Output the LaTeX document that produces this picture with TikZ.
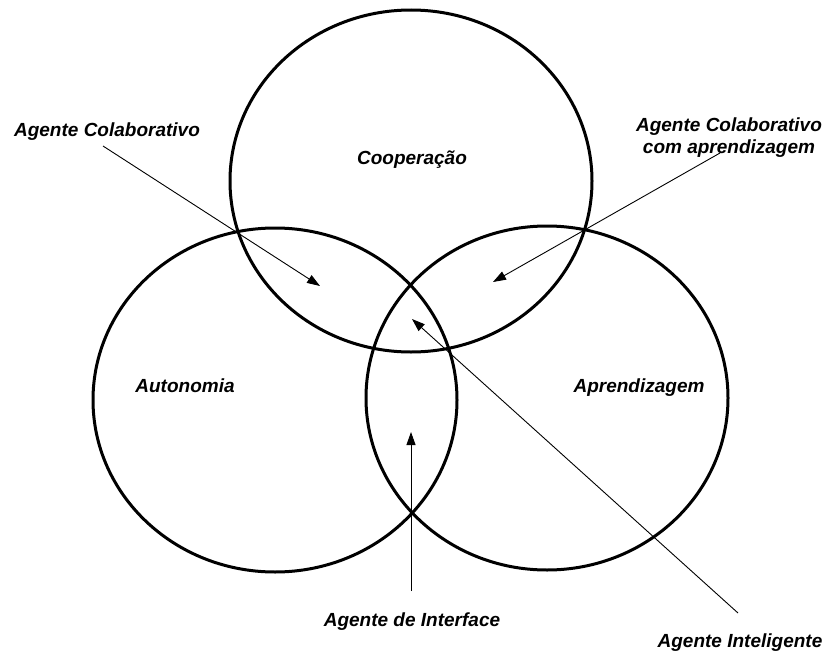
\documentclass[tikz,border=0pt]{standalone}
\usepackage{fontspec}
\setmainfont{Liberation Sans}
\usetikzlibrary{arrows.meta}
\begin{document}
\begin{tikzpicture}[x=1pt,y=-1pt,
  setring/.style={line width=3pt},
  lbl/.style={font=\fontsize{19}{21.5}\selectfont\bfseries\itshape, inner sep=0pt, anchor=base},
  pointer/.style={line width=0.9pt, -{Triangle[length=13pt,width=9pt]}}]
\useasboundingbox (0,0) rectangle (825,653);
% sets
\draw[setring] (411,181) ellipse [x radius=181, y radius=171];
\draw[setring] (275,400) ellipse [x radius=182, y radius=172];
\draw[setring] (547,398) ellipse [x radius=181, y radius=172];
% set labels
\node[lbl] (coop) at (412,164) {Cooperação};
\node[lbl] (auto) at (185,392) {Autonomia};
\node[lbl] (apr) at (639,392) {Aprendizagem};
% agent labels
\node[lbl] (colab) at (107,136) {Agente Colaborativo};
\node[lbl, align=center] (colabapr) at (729,153) {Agente Colaborativo\\com aprendizagem};
\node[lbl] (interf) at (412,626) {Agente de Interface};
\node[lbl] (intel) at (740,647) {Agente Inteligente};
% arrow ends
\coordinate (colabS) at (103,146);
\coordinate (colabT) at (320,286);
\coordinate (colabaprS) at (720,153);
\coordinate (colabaprT) at (493,282);
\coordinate (interfS) at (411,591);
\coordinate (interfT) at (411,432);
\coordinate (intelS) at (738,613);
\coordinate (intelT) at (412,319);
\draw[pointer] (colabS) -- (colabT);
\draw[pointer] (colabaprS) -- (colabaprT);
\draw[pointer] (interfS) -- (interfT);
\draw[pointer] (intelS) -- (intelT);
\end{tikzpicture}
\end{document}
